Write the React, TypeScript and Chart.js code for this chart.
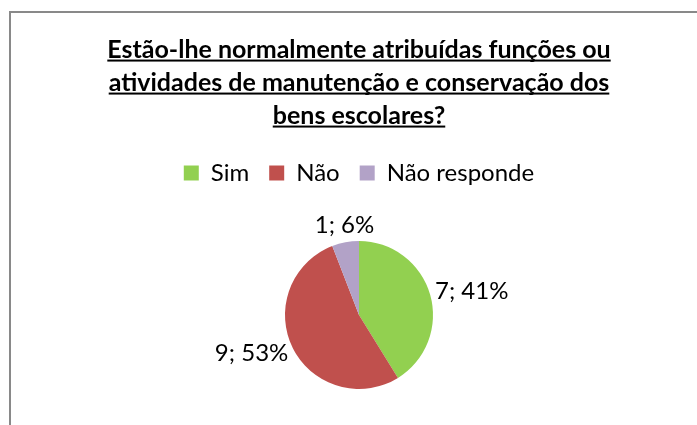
import React, { useEffect, useRef } from 'react';
import { Chart, registerables } from 'chart.js';

Chart.register(...registerables);

const titleLines = [
  'Estão-lhe normalmente atribuídas funções ou',
  'atividades de manutenção e conservação dos',
  'bens escolares?',
];
const categories = ['Sim', 'Não', 'Não responde'];
const counts = [7, 9, 1];
const sliceColors = ['#92D050', '#C0504D', '#B2A2C7'];

const FONT = 'Lato, "Noto Sans", sans-serif';
const TITLE_SIZE = 25;
const TITLE_LH = 33;
const LABEL_SIZE = 24;

const framePlugin = {
  id: 'frame',
  beforeDraw(chart: any) {
    const ctx = chart.ctx;
    ctx.save();
    ctx.fillStyle = '#ffffff';
    ctx.fillRect(0, 0, chart.width, chart.height);
    ctx.strokeStyle = '#898989';
    ctx.lineWidth = 2;
    ctx.beginPath();
    ctx.moveTo(10, chart.height + 20);
    ctx.lineTo(10, 12);
    ctx.lineTo(chart.width + 20, 12);
    ctx.stroke();
    ctx.restore();
  },
};

const underlinePlugin = {
  id: 'titleUnderline',
  afterDraw(chart: any) {
    const tb = chart.titleBlock;
    if (!tb) return;
    const opts = chart.options.plugins.title;
    const ctx = chart.ctx;
    ctx.save();
    ctx.font = `bold ${TITLE_SIZE}px ${FONT}`;
    ctx.textBaseline = 'middle';
    const hDesc = ctx.measureText('H').actualBoundingBoxDescent;
    const cx = (tb.left + tb.right) / 2;
    ctx.fillStyle = '#000000';
    titleLines.forEach((line, i) => {
      const w = ctx.measureText(line).width;
      const y = tb.top + opts.padding.top + TITLE_LH * (i + 0.5) + hDesc + 2;
      ctx.fillRect(cx - w / 2, y, w, 2);
    });
    ctx.restore();
  },
};

const labelPlugin = {
  id: 'outsideLabels',
  afterDatasetsDraw(chart: any) {
    const ctx = chart.ctx;
    const meta = chart.getDatasetMeta(0);
    const data = chart.data.datasets[0].data as number[];
    const total = data.reduce((a, b) => a + b, 0);
    ctx.save();
    ctx.font = `${LABEL_SIZE}px ${FONT}`;
    ctx.fillStyle = '#000000';
    meta.data.forEach((arc: any, i: number) => {
      const { x, y, startAngle, endAngle, outerRadius } = arc.getProps(
        ['x', 'y', 'startAngle', 'endAngle', 'outerRadius'],
        true
      );
      const mid = (startAngle + endAngle) / 2;
      const c = Math.cos(mid);
      const s = Math.sin(mid);
      const r = outerRadius + 5;
      const px = x + c * r;
      const py = y + s * r;
      const text = `${data[i]}; ${Math.round((data[i] / total) * 100)}%`;
      ctx.textAlign = c > 0.5 ? 'left' : c < -0.5 ? 'right' : 'center';
      ctx.textBaseline = s < -0.5 ? 'bottom' : s > 0.5 ? 'top' : 'middle';
      ctx.fillText(text, px, py + (Math.abs(s) <= 0.5 ? s * 6 : 0));
    });
    ctx.restore();
  },
};

export default function App() {
  const canvasRef = useRef<HTMLCanvasElement | null>(null);

  useEffect(() => {
    if (!canvasRef.current) return;
    const chart = new Chart(canvasRef.current, {
      type: 'pie',
      data: {
        labels: categories,
        datasets: [
          {
            data: counts,
            backgroundColor: sliceColors,
            borderWidth: 0,
            radius: 74,
          },
        ],
      },
      options: {
        animation: false,
        responsive: true,
        maintainAspectRatio: false,
        layout: { padding: { top: 12, left: 21, right: 0, bottom: 0 } },
        plugins: {
          title: {
            display: true,
            text: titleLines,
            color: '#000000',
            font: { family: FONT, size: TITLE_SIZE, weight: 'bold', lineHeight: `${TITLE_LH}px` },
            padding: { top: 21, bottom: 9 },
          },
          legend: {
            display: true,
            position: 'top',
            labels: {
              color: '#000000',
              font: { family: FONT, size: LABEL_SIZE },
              boxWidth: 15,
              boxHeight: 15,
              padding: 20,
            },
          },
          tooltip: { enabled: false },
        },
      },
      plugins: [framePlugin, underlinePlugin, labelPlugin],
    });
    return () => chart.destroy();
  }, []);

  return (
    <div
      style={{
        position: 'fixed',
        top: 0,
        left: 0,
        width: 697,
        height: 425,
        overflow: 'hidden',
        background: '#ffffff',
      }}
    >
      <div style={{ position: 'relative', width: 697, height: 435 }}>
        <canvas ref={canvasRef} />
      </div>
    </div>
  );
}
